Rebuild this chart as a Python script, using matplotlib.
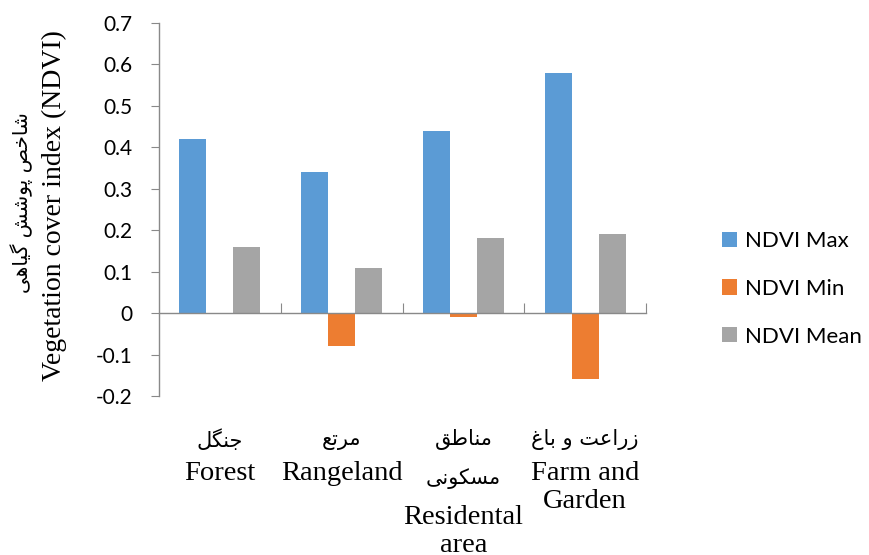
import numpy as np
import matplotlib.pyplot as plt
from matplotlib import transforms

# --- data ---
cats_fa = ["جنگل", "مرتع", "مناطق\nمسکونی", "زراعت و باغ"]
cats_en = ["Forest", "Rangeland", "Residental\narea", "Farm and\nGarden"]
ndvi_max = [0.42, 0.34, 0.44, 0.58]
ndvi_min = [0.0, -0.08, -0.01, -0.16]
ndvi_mean = [0.16, 0.11, 0.18, 0.19]
series_names = ["NDVI Max", "NDVI Min", "NDVI Mean"]
ylabel_fa = "شاخص پوشش گیاهی"
ylabel_en = "Vegetation cover index (NDVI)"

# matplotlib has no arabic shaping -> pick presentation forms by hand
# letter: (isolated, final, initial, medial); two-form letters don't join left
forms = {
    "ا": (0xFE8D, 0xFE8E), "ر": (0xFEAD, 0xFEAE), "ز": (0xFEAF, 0xFEB0),
    "و": (0xFEED, 0xFEEE),
    "ب": (0xFE8F, 0xFE90, 0xFE91, 0xFE92), "پ": (0xFB56, 0xFB57, 0xFB58, 0xFB59),
    "ت": (0xFE95, 0xFE96, 0xFE97, 0xFE98), "ج": (0xFE9D, 0xFE9E, 0xFE9F, 0xFEA0),
    "خ": (0xFEA5, 0xFEA6, 0xFEA7, 0xFEA8), "س": (0xFEB1, 0xFEB2, 0xFEB3, 0xFEB4),
    "ش": (0xFEB5, 0xFEB6, 0xFEB7, 0xFEB8), "ص": (0xFEB9, 0xFEBA, 0xFEBB, 0xFEBC),
    "ط": (0xFEC1, 0xFEC2, 0xFEC3, 0xFEC4), "ع": (0xFEC9, 0xFECA, 0xFECB, 0xFECC),
    "غ": (0xFECD, 0xFECE, 0xFECF, 0xFED0), "ق": (0xFED5, 0xFED6, 0xFED7, 0xFED8),
    "ک": (0xFB8E, 0xFB8F, 0xFB90, 0xFB91), "گ": (0xFB92, 0xFB93, 0xFB94, 0xFB95),
    "ل": (0xFEDD, 0xFEDE, 0xFEDF, 0xFEE0), "م": (0xFEE1, 0xFEE2, 0xFEE3, 0xFEE4),
    "ن": (0xFEE5, 0xFEE6, 0xFEE7, 0xFEE8), "ه": (0xFEE9, 0xFEEA, 0xFEEB, 0xFEEC),
    "ی": (0xFBFC, 0xFBFD, 0xFBFE, 0xFBFF),
}


def shape(line):
    out = []
    for i, ch in enumerate(line):
        if ch not in forms:
            out.append(ch)
            continue
        prev = line[i - 1] if i > 0 else ""
        nxt = line[i + 1] if i + 1 < len(line) else ""
        join_prev = prev in forms and len(forms[prev]) == 4
        join_next = nxt in forms and len(forms[ch]) == 4
        f = forms[ch]
        if join_prev and join_next:
            out.append(chr(f[3]))
        elif join_prev:
            out.append(chr(f[1]))
        elif join_next:
            out.append(chr(f[2]))
        else:
            out.append(chr(f[0]))
    return "".join(out)[::-1]


colors = ["#5B9BD5", "#ED7D31", "#A5A5A5"]
axis_grey = "#898989"
serif = ["Liberation Serif", "DejaVu Sans"]
H = 555.0  # figure height in px, used to place label lines

fig = plt.figure(figsize=(8.7, 5.55), dpi=100)
ax = fig.add_axes([0.1828, 0.2865, 0.5597, 0.6721])

x = np.arange(len(cats_en))
w = 1 / 4.5
for k, vals in enumerate([ndvi_max, ndvi_min, ndvi_mean]):
    ax.bar(x + (k - 1) * w, vals, w, color=colors[k], label=series_names[k])

ax.set_xlim(-0.5, len(cats_en) - 0.5)
ax.set_ylim(-0.2, 0.7)
yt = np.arange(-0.2, 0.71, 0.1)
ax.set_yticks(yt)
ax.set_yticklabels(["%g" % round(v, 1) for v in yt], fontfamily="Lato", fontsize=15)

for s in ["top", "right"]:
    ax.spines[s].set_visible(False)
ax.spines["bottom"].set_position(("data", 0))
for s in ["left", "bottom"]:
    ax.spines[s].set_color(axis_grey)
    ax.spines[s].set_linewidth(1.0)

ax.set_xticks(np.arange(0.5, len(cats_en), 1.0))
ax.tick_params(axis="x", direction="in", length=7, color=axis_grey, labelbottom=False)
ax.tick_params(axis="y", direction="out", length=6, color=axis_grey, pad=13)

# category labels below the plot area: persian lines, then english lines
trans = transforms.blended_transform_factory(ax.transData, fig.transFigure)
for i in range(len(cats_en)):
    fa_lines = cats_fa[i].split("\n")
    for j, line in enumerate(fa_lines):
        ax.text(x[i], 1 - (440 + 39 * j) / H, shape(line), transform=trans,
                ha="center", va="center", fontsize=15, family="DejaVu Sans")
    y0 = 474 + 43 * (len(fa_lines) - 1)
    for j, line in enumerate(cats_en[i].split("\n")):
        ax.text(x[i], 1 - (y0 + 28 * j) / H, line, transform=trans,
                ha="center", va="center", fontsize=20.5, family=serif)

# two-line y label
fig.text(0.025, 0.635, shape(ylabel_fa), rotation=90, ha="center", va="center",
         fontsize=14.5, family="DejaVu Sans")
fig.text(0.063, 0.63, ylabel_en, rotation=90, ha="center", va="center",
         fontsize=20, family=serif)

fig.legend(loc="center left", bbox_to_anchor=(0.8065, 0.4795), frameon=False,
           prop={"family": "Lato", "size": 16}, handlelength=0.68,
           handleheight=0.68, handletextpad=0.35, labelspacing=1.25)

fig.savefig("out.png", dpi=100)
